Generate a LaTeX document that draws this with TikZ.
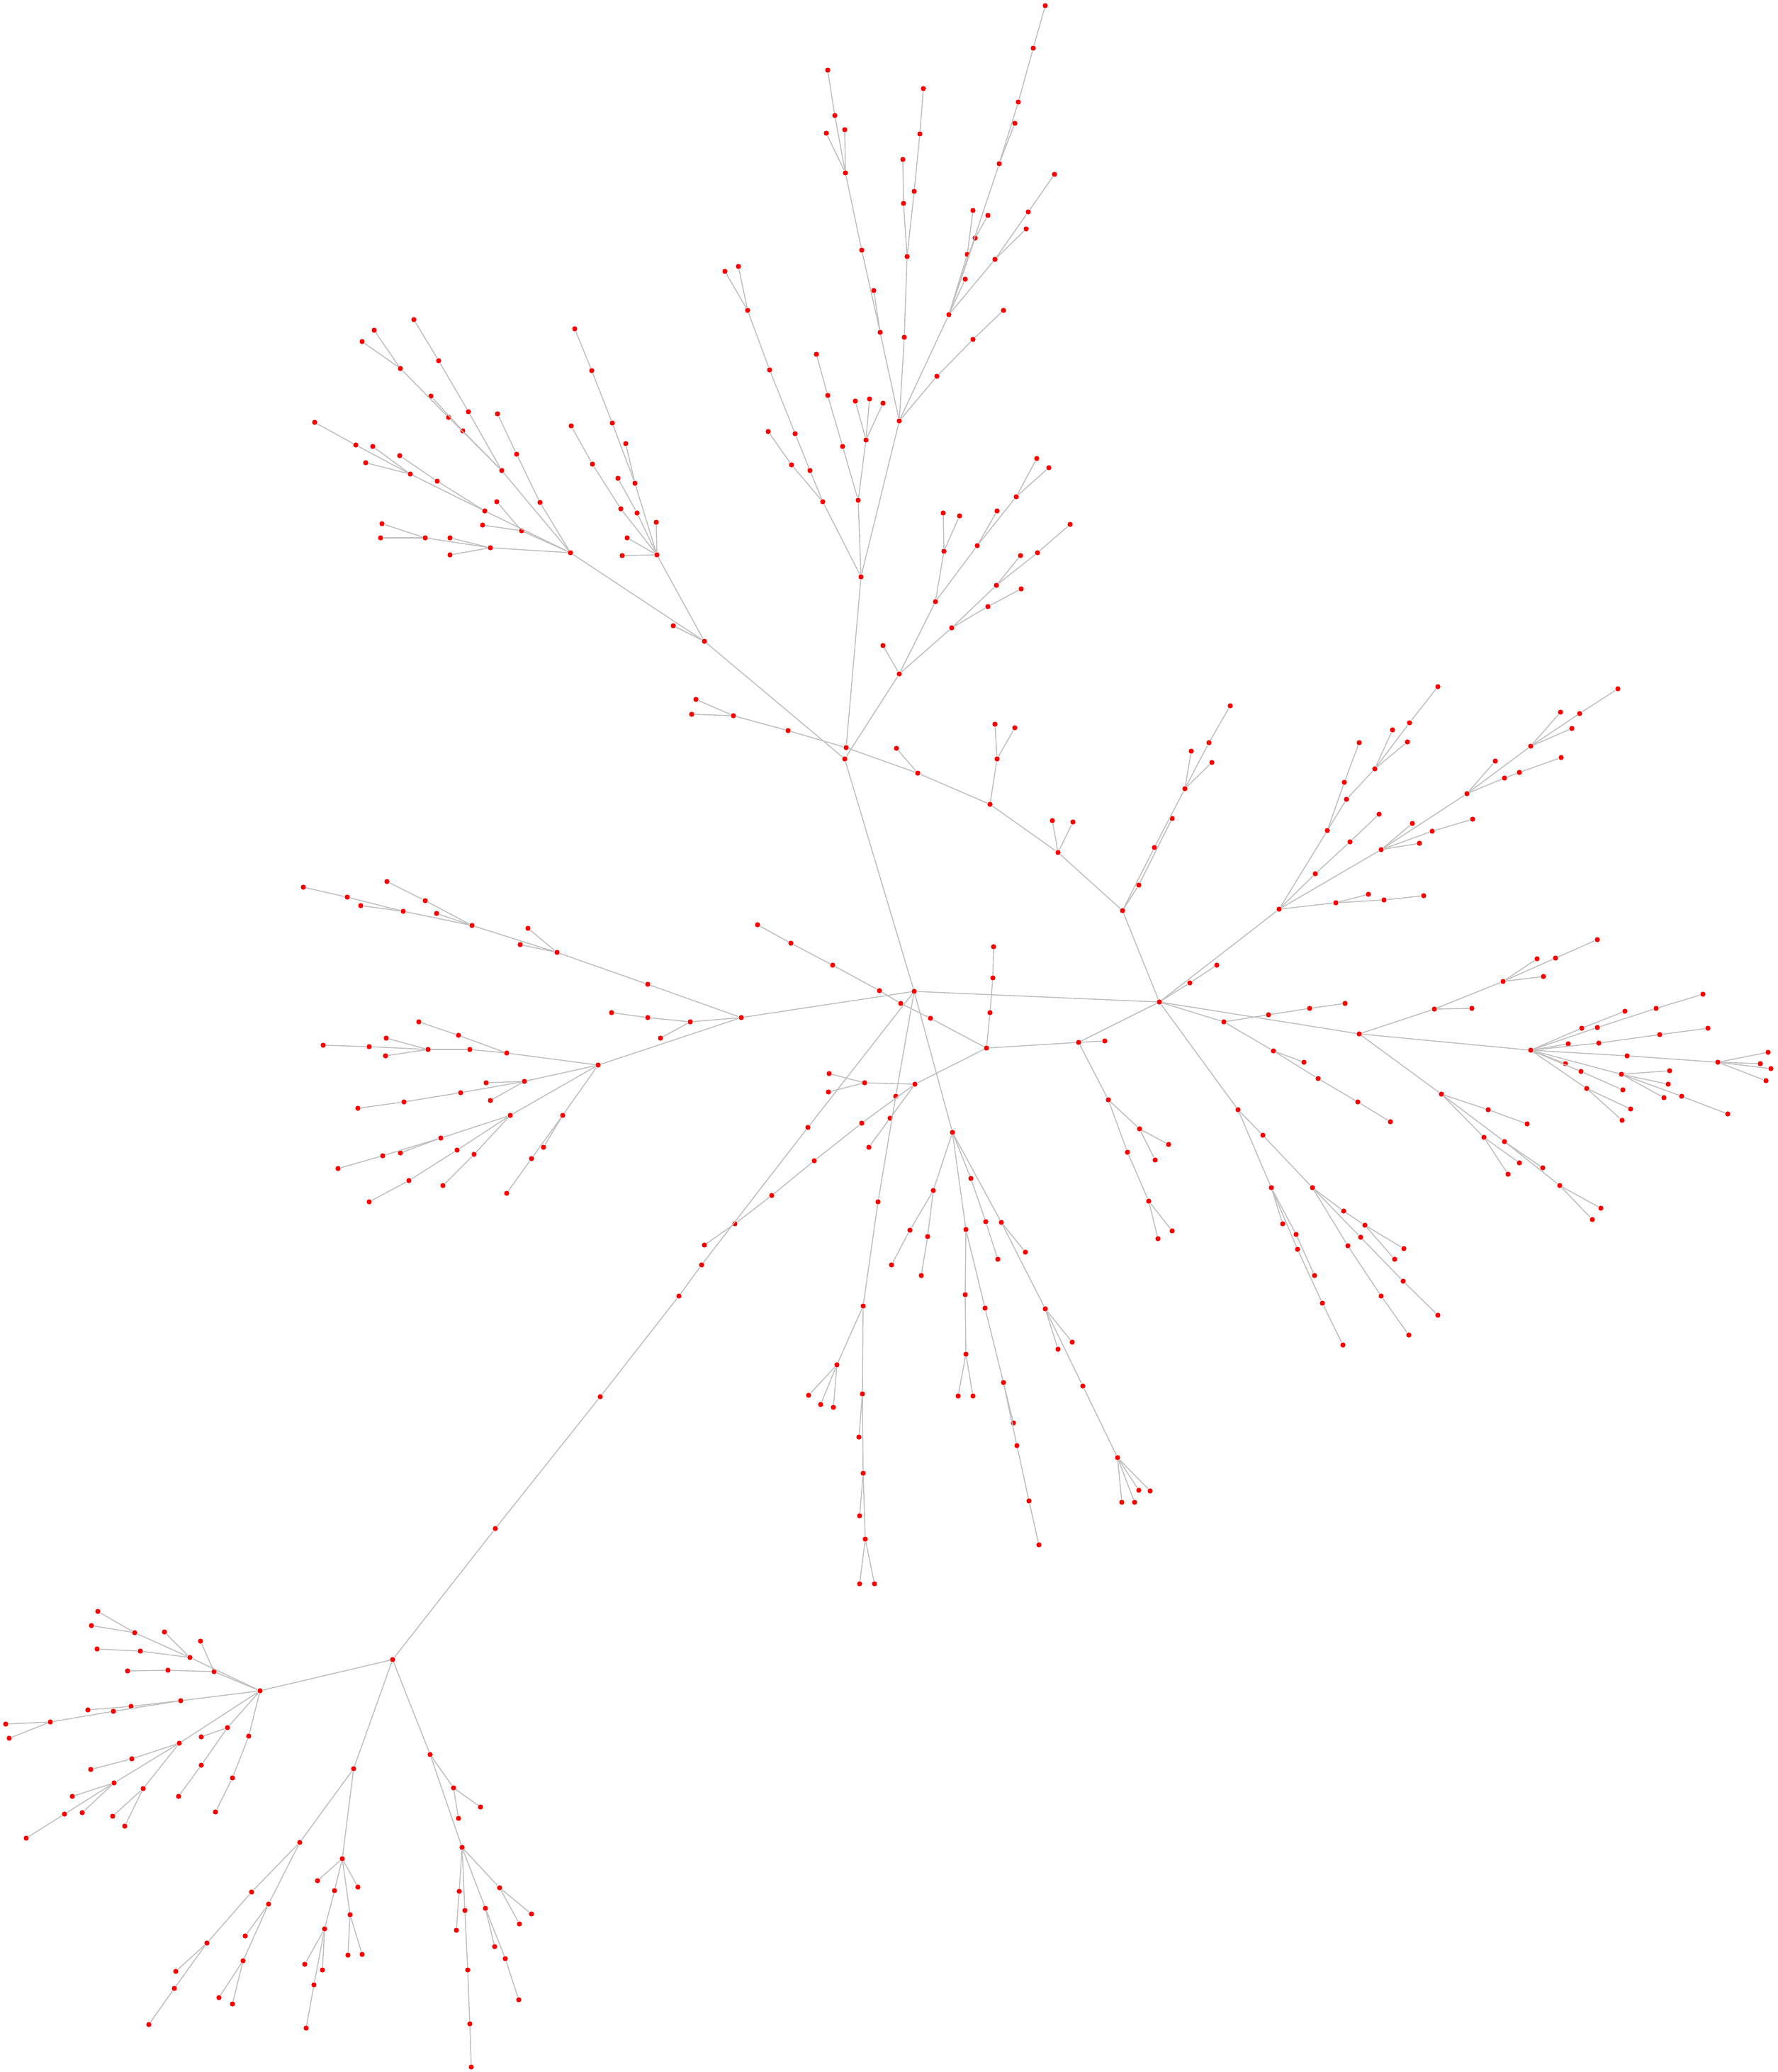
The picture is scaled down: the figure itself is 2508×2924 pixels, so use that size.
\documentclass[tikz,border=0pt]{standalone}

\begin{document}
\begin{tikzpicture}[x=0.1mm, y=-0.1mm,
    dot/.style={circle, fill=red, inner sep=0pt, minimum size=0.72mm},
    link/.style={color=black!25, line width=0.14mm}]
\useasboundingbox (0,0) rectangle (2508,2924);

\node [dot] (t1) at (1475,8) {};   \node [dot] (t2) at (1458,68) {};  \node [dot] (t3) at (1437,144) {};
\node [dot] (t4) at (1432,174) {}; \node [dot] (t5) at (1410,231) {}; \node [dot] (t6) at (1488,246) {};
\node [dot] (t7) at (1451,299) {}; \node [dot] (t8) at (1448,323) {}; \node [dot] (t9) at (1404,366) {};
\node [dot] (t10) at (1373,297) {}; \node [dot] (t11) at (1394,304) {}; \node [dot] (t12) at (1376,336) {};
\node [dot] (t13) at (1365,359) {}; \node [dot] (t14) at (1362,394) {}; \node [dot] (t15) at (1339,444) {};
\node [dot] (t16) at (1416,438) {}; \node [dot] (t17) at (1373,479) {}; \node [dot] (t18) at (1322,531) {};
\node [dot] (t19) at (1269,594) {}; \node [dot] (t20) at (1276,476) {}; \node [dot] (t21) at (1280,362) {};
\node [dot] (t22) at (1275,287) {}; \node [dot] (t23) at (1274,225) {}; \node [dot] (t24) at (1290,270) {};
\node [dot] (t25) at (1298,189) {}; \node [dot] (t26) at (1303,125) {}; \node [dot] (t27) at (1242,469) {};
\node [dot] (t28) at (1233,410) {}; \node [dot] (t29) at (1216,353) {}; \node [dot] (t30) at (1193,244) {};
\node [dot] (t31) at (1166,188) {}; \node [dot] (t32) at (1192,183) {}; \node [dot] (t33) at (1178,163) {};
\node [dot] (t34) at (1168,99) {};  \node [dot] (t35) at (1055,438) {}; \node [dot] (t36) at (1023,383) {};
\node [dot] (t37) at (1042,376) {}; \node [dot] (t38) at (1086,522) {}; \node [dot] (t39) at (1122,612) {};
\node [dot] (t40) at (1084,609) {}; \node [dot] (t41) at (1152,500) {}; \node [dot] (t42) at (1168,558) {};
\node [dot] (t43) at (1189,630) {}; \node [dot] (t44) at (1207,566) {}; \node [dot] (t45) at (1227,563) {};
\node [dot] (t46) at (1246,569) {}; \node [dot] (t47) at (1222,621) {};

\node [dot] (u1) at (584,451) {};  \node [dot] (u2) at (528,466) {};  \node [dot] (u3) at (511,482) {};
\node [dot] (u4) at (565,520) {};  \node [dot] (u5) at (619,509) {};  \node [dot] (u6) at (608,559) {};
\node [dot] (u7) at (633,589) {};  \node [dot] (u8) at (661,581) {};  \node [dot] (u9) at (653,608) {};
\node [dot] (u10) at (702,584) {}; \node [dot] (u11) at (708,664) {}; \node [dot] (u12) at (729,641) {};
\node [dot] (u13) at (762,709) {}; \node [dot] (u14) at (444,596) {}; \node [dot] (u15) at (502,628) {};
\node [dot] (u16) at (526,630) {}; \node [dot] (u17) at (564,643) {}; \node [dot] (u18) at (516,653) {};
\node [dot] (u19) at (579,669) {}; \node [dot] (u20) at (617,679) {}; \node [dot] (u21) at (684,721) {};
\node [dot] (u22) at (701,708) {}; \node [dot] (u23) at (681,741) {}; \node [dot] (u24) at (736,749) {};
\node [dot] (u25) at (805,780) {}; \node [dot] (u26) at (539,739) {}; \node [dot] (u27) at (537,759) {};
\node [dot] (u28) at (600,759) {}; \node [dot] (u29) at (635,759) {}; \node [dot] (u30) at (692,773) {};
\node [dot] (u31) at (635,783) {}; \node [dot] (u32) at (811,464) {}; \node [dot] (u33) at (835,523) {};
\node [dot] (u34) at (864,597) {}; \node [dot] (u35) at (883,626) {}; \node [dot] (u36) at (896,682) {};
\node [dot] (u37) at (806,601) {}; \node [dot] (u38) at (836,655) {}; \node [dot] (u39) at (872,675) {};
\node [dot] (u40) at (899,724) {}; \node [dot] (u41) at (876,718) {}; \node [dot] (u42) at (926,737) {};
\node [dot] (u43) at (885,759) {}; \node [dot] (u44) at (878,784) {}; \node [dot] (u45) at (927,783) {};
\node [dot] (u46) at (950,883) {}; \node [dot] (u47) at (994,905) {};

\node [dot] (v3) at (1117,656) {};  \node [dot] (v4) at (1143,664) {};  \node [dot] (v5) at (1161,708) {};
\node [dot] (v6) at (1211,706) {};  \node [dot] (v7) at (1215,814) {};  \node [dot] (v8) at (1463,647) {};
\node [dot] (v9) at (1480,660) {};  \node [dot] (v10) at (1434,701) {}; \node [dot] (v11) at (1331,724) {};
\node [dot] (v12) at (1354,728) {}; \node [dot] (v13) at (1407,721) {}; \node [dot] (v14) at (1332,778) {};
\node [dot] (v15) at (1379,770) {}; \node [dot] (v16) at (1510,740) {}; \node [dot] (v17) at (1440,784) {};
\node [dot] (v18) at (1464,780) {}; \node [dot] (v19) at (1406,826) {}; \node [dot] (v20) at (1441,831) {};
\node [dot] (v21) at (1394,856) {}; \node [dot] (v22) at (1320,849) {}; \node [dot] (v23) at (1343,886) {};
\node [dot] (v24) at (1246,911) {}; \node [dot] (v25) at (1269,951) {}; \node [dot] (v28) at (982,987) {};
\node [dot] (v29) at (976,1008) {}; \node [dot] (v30) at (1035,1010) {}; \node [dot] (v31) at (1112,1031) {};
\node [dot] (v32) at (1194,1055) {}; \node [dot] (v33) at (1192,1071) {}; \node [dot] (v34) at (1265,1056) {};
\node [dot] (v35) at (1295,1091) {}; \node [dot] (v36) at (1404,1022) {}; \node [dot] (v37) at (1432,1027) {};
\node [dot] (v38) at (1407,1071) {}; \node [dot] (v39) at (1397,1135) {};
\node [dot] (y1) at (1493,1203) {}; \node [dot] (y2) at (1485,1158) {}; \node [dot] (y3) at (1514,1160) {};

\node [dot] (x1) at (1736,996) {};   \node [dot] (x2) at (1706,1048) {};  \node [dot] (x3) at (1681,1060) {};
\node [dot] (x4) at (1710,1076) {};  \node [dot] (x5) at (1672,1113) {};  \node [dot] (x6) at (1654,1155) {};
\node [dot] (x7) at (1629,1196) {};  \node [dot] (x8) at (1607,1249) {};  \node [dot] (x9) at (1584,1285) {};
\node [dot] (x10) at (2029,969) {};  \node [dot] (x11) at (1989,1020) {}; \node [dot] (x12) at (1965,1030) {};
\node [dot] (x13) at (1986,1047) {}; \node [dot] (x14) at (1918,1048) {}; \node [dot] (x15) at (1940,1085) {};
\node [dot] (x16) at (1897,1104) {}; \node [dot] (x17) at (1900,1128) {}; \node [dot] (x18) at (1873,1172) {};
\node [dot] (x19) at (1946,1149) {}; \node [dot] (x20) at (1905,1188) {}; \node [dot] (x21) at (1856,1233) {};
\node [dot] (x22) at (1805,1283) {}; \node [dot] (x23) at (2283,972) {};  \node [dot] (x24) at (2202,1005) {};
\node [dot] (x25) at (2229,1007) {}; \node [dot] (x26) at (2218,1028) {}; \node [dot] (x27) at (2160,1053) {};
\node [dot] (x28) at (2110,1074) {}; \node [dot] (x29) at (2203,1069) {}; \node [dot] (x30) at (2144,1090) {};
\node [dot] (x31) at (2123,1098) {}; \node [dot] (x32) at (2070,1120) {}; \node [dot] (x33) at (1993,1162) {};
\node [dot] (x34) at (2078,1156) {}; \node [dot] (x35) at (2021,1173) {}; \node [dot] (x36) at (2003,1190) {};
\node [dot] (x37) at (1949,1199) {}; \node [dot] (x38) at (1931,1262) {}; \node [dot] (x39) at (1953,1270) {};
\node [dot] (x40) at (2009,1264) {}; \node [dot] (x41) at (1885,1274) {};

\node [dot] (s9) at (1679,1387) {};  \node [dot] (s10) at (1717,1362) {}; \node [dot] (s15) at (1727,1442) {};
\node [dot] (s16) at (1790,1432) {}; \node [dot] (s17) at (1848,1423) {}; \node [dot] (s20) at (1797,1483) {};
\node [dot] (s21) at (1840,1499) {}; \node [dot] (s22) at (1860,1522) {};

\node [dot] (r1) at (2254,1326) {};  \node [dot] (r2) at (2169,1353) {};  \node [dot] (r3) at (2195,1352) {};
\node [dot] (r4) at (2178,1378) {};  \node [dot] (r5) at (2121,1385) {};  \node [dot] (r6) at (1898,1416) {};
\node [dot] (r7) at (2024,1424) {};  \node [dot] (r8) at (2077,1423) {};  \node [dot] (r9) at (1918,1459) {};
\node [dot] (r10) at (2160,1482) {}; \node [dot] (r11) at (2232,1451) {}; \node [dot] (r12) at (2293,1427) {};
\node [dot] (r13) at (2254,1450) {}; \node [dot] (r14) at (2337,1423) {}; \node [dot] (r15) at (2403,1403) {};
\node [dot] (r16) at (2213,1473) {}; \node [dot] (r17) at (2256,1472) {}; \node [dot] (r18) at (2342,1460) {};
\node [dot] (r19) at (2410,1451) {}; \node [dot] (r20) at (2296,1490) {}; \node [dot] (r21) at (2424,1499) {};
\node [dot] (r22) at (2495,1485) {}; \node [dot] (r23) at (2484,1501) {}; \node [dot] (r24) at (2499,1508) {};
\node [dot] (r25) at (2492,1525) {}; \node [dot] (r26) at (2209,1501) {}; \node [dot] (r27) at (2231,1512) {};
\node [dot] (r28) at (2288,1516) {}; \node [dot] (r29) at (2356,1511) {}; \node [dot] (r30) at (2354,1530) {};
\node [dot] (r31) at (2348,1549) {}; \node [dot] (r32) at (2373,1547) {}; \node [dot] (r33) at (2438,1572) {};
\node [dot] (r34) at (2290,1538) {}; \node [dot] (r35) at (2239,1536) {}; \node [dot] (r36) at (2301,1565) {};
\node [dot] (r37) at (2289,1581) {}; \node [dot] (r38) at (2034,1544) {}; \node [dot] (r39) at (2100,1566) {};
\node [dot] (r40) at (2155,1586) {}; \node [dot] (r41) at (2094,1605) {}; \node [dot] (r42) at (2123,1611) {};
\node [dot] (r43) at (2144,1641) {}; \node [dot] (r44) at (2128,1657) {}; \node [dot] (r45) at (2177,1648) {};
\node [dot] (r46) at (2201,1673) {}; \node [dot] (r47) at (2259,1705) {}; \node [dot] (r48) at (2247,1721) {};
\node [dot] (r49) at (1916,1555) {}; \node [dot] (r50) at (1962,1583) {}; \node [dot] (r51) at (1896,1709) {};
\node [dot] (r52) at (1926,1729) {}; \node [dot] (r53) at (1920,1746) {};

\node [dot] (q1) at (1747,1566) {};  \node [dot] (q2) at (1782,1602) {};  \node [dot] (q3) at (1794,1676) {};
\node [dot] (q4) at (1852,1676) {};  \node [dot] (q5) at (1810,1727) {};  \node [dot] (q6) at (1829,1742) {};
\node [dot] (q7) at (1831,1763) {};  \node [dot] (q8) at (1855,1800) {};  \node [dot] (q9) at (1866,1839) {};
\node [dot] (q10) at (1895,1898) {}; \node [dot] (q14) at (1902,1758) {}; \node [dot] (q15) at (1981,1762) {};
\node [dot] (q16) at (1968,1777) {}; \node [dot] (q17) at (1980,1808) {}; \node [dot] (q18) at (1949,1829) {};
\node [dot] (q19) at (2029,1856) {}; \node [dot] (q20) at (1988,1884) {};

\node [dot] (w1) at (1069,1305) {};  \node [dot] (w2) at (1116,1331) {};  \node [dot] (w3) at (1175,1362) {};
\node [dot] (w4) at (1241,1398) {};  \node [dot] (w5) at (1290,1399) {};  \node [dot] (w6) at (1271,1416) {};
\node [dot] (w7) at (1313,1437) {};  \node [dot] (w8) at (1046,1436) {};  \node [dot] (w9) at (1402,1336) {};
\node [dot] (w10) at (1401,1380) {}; \node [dot] (w11) at (1397,1429) {}; \node [dot] (w12) at (1392,1479) {};
\node [dot] (w13) at (1522,1471) {}; \node [dot] (w14) at (1559,1469) {}; \node [dot] (w15) at (1636,1414) {};
\node [dot] (w16) at (1170,1515) {}; \node [dot] (w17) at (1220,1528) {}; \node [dot] (w18) at (1169,1541) {};
\node [dot] (w19) at (1291,1530) {}; \node [dot] (w20) at (1264,1547) {}; \node [dot] (w21) at (1256,1578) {};
\node [dot] (w22) at (1216,1585) {}; \node [dot] (w23) at (1226,1619) {}; \node [dot] (w24) at (1140,1591) {};
\node [dot] (w25) at (1149,1638) {}; \node [dot] (w26) at (1089,1687) {}; \node [dot] (w27) at (1344,1598) {};
\node [dot] (w28) at (1239,1696) {}; \node [dot] (w29) at (1317,1680) {}; \node [dot] (w30) at (1284,1736) {};
\node [dot] (w31) at (1309,1745) {}; \node [dot] (w32) at (1258,1785) {}; \node [dot] (w33) at (1370,1663) {};
\node [dot] (w34) at (1391,1724) {}; \node [dot] (w35) at (1413,1725) {}; \node [dot] (w36) at (1363,1735) {};
\node [dot] (w37) at (1408,1777) {}; \node [dot] (w38) at (1447,1767) {}; \node [dot] (w39) at (1564,1552) {};
\node [dot] (w40) at (1608,1593) {}; \node [dot] (w41) at (1649,1615) {}; \node [dot] (w42) at (1630,1637) {};
\node [dot] (w43) at (1591,1626) {}; \node [dot] (w44) at (1621,1695) {}; \node [dot] (w45) at (1654,1737) {};
\node [dot] (w46) at (1634,1748) {};

\node [dot] (p2) at (1300,1800) {};  \node [dot] (p4) at (1218,1843) {};  \node [dot] (p5) at (1181,1926) {};
\node [dot] (p6) at (1141,1969) {};  \node [dot] (p7) at (1158,1982) {};  \node [dot] (p8) at (1176,1986) {};
\node [dot] (p9) at (1217,1967) {};  \node [dot] (p10) at (1212,2028) {}; \node [dot] (p11) at (1218,2079) {};
\node [dot] (p12) at (1213,2139) {}; \node [dot] (p13) at (1221,2172) {}; \node [dot] (p14) at (1213,2235) {};
\node [dot] (p15) at (1234,2235) {}; \node [dot] (p16) at (1362,1827) {}; \node [dot] (p17) at (1363,1911) {};
\node [dot] (p18) at (1352,1970) {}; \node [dot] (p19) at (1373,1970) {}; \node [dot] (p20) at (1390,1846) {};
\node [dot] (p21) at (1416,1951) {}; \node [dot] (p22) at (1430,2008) {}; \node [dot] (p23) at (1435,2040) {};
\node [dot] (p24) at (1452,2118) {}; \node [dot] (p25) at (1466,2180) {}; \node [dot] (p26) at (1475,1847) {};
\node [dot] (p27) at (1493,1904) {}; \node [dot] (p28) at (1513,1894) {}; \node [dot] (p29) at (1528,1956) {};
\node [dot] (p30) at (1577,2057) {}; \node [dot] (p31) at (1583,2120) {}; \node [dot] (p32) at (1601,2120) {};
\node [dot] (p33) at (1607,2103) {}; \node [dot] (p34) at (1623,2104) {};

\node [dot] (l1) at (428,1252) {};  \node [dot] (l2) at (490,1266) {};  \node [dot] (l3) at (509,1278) {};
\node [dot] (l4) at (569,1286) {};  \node [dot] (l5) at (546,1244) {};  \node [dot] (l6) at (600,1271) {};
\node [dot] (l7) at (616,1289) {};  \node [dot] (l8) at (666,1306) {};  \node [dot] (l9) at (745,1310) {};
\node [dot] (l10) at (734,1333) {}; \node [dot] (l11) at (786,1344) {}; \node [dot] (l12) at (914,1389) {};
\node [dot] (l14) at (863,1429) {}; \node [dot] (l15) at (914,1436) {}; \node [dot] (l16) at (974,1442) {};
\node [dot] (l17) at (932,1465) {}; \node [dot] (l18) at (844,1503) {}; \node [dot] (l19) at (715,1486) {};
\node [dot] (l20) at (647,1461) {}; \node [dot] (l21) at (591,1442) {}; \node [dot] (l22) at (663,1481) {};
\node [dot] (l23) at (604,1481) {}; \node [dot] (l24) at (545,1465) {}; \node [dot] (l25) at (521,1477) {};
\node [dot] (l26) at (456,1475) {}; \node [dot] (l27) at (544,1490) {}; \node [dot] (l28) at (740,1526) {};
\node [dot] (l29) at (686,1528) {}; \node [dot] (l30) at (692,1553) {}; \node [dot] (l31) at (650,1542) {};
\node [dot] (l32) at (570,1555) {}; \node [dot] (l33) at (505,1564) {}; \node [dot] (l34) at (720,1574) {};
\node [dot] (l35) at (622,1606) {}; \node [dot] (l36) at (565,1627) {}; \node [dot] (l37) at (540,1631) {};
\node [dot] (l38) at (477,1649) {}; \node [dot] (l39) at (645,1623) {}; \node [dot] (l40) at (577,1666) {};
\node [dot] (l41) at (521,1696) {}; \node [dot] (l42) at (669,1629) {}; \node [dot] (l43) at (625,1673) {};
\node [dot] (l44) at (794,1574) {}; \node [dot] (l45) at (767,1619) {}; \node [dot] (l46) at (750,1635) {};
\node [dot] (l47) at (715,1684) {};

\node [dot] (k1) at (1037,1727) {}; \node [dot] (k2) at (994,1757) {}; \node [dot] (k3) at (990,1785) {};
\node [dot] (k4) at (958,1829) {};  \node [dot] (k5) at (847,1971) {}; \node [dot] (k6) at (699,2157) {};
\node [dot] (h) at (554,2342) {};

\node [dot] (b1) at (138,2274) {};  \node [dot] (b2) at (129,2294) {};  \node [dot] (b3) at (190,2304) {};
\node [dot] (b4) at (232,2303) {};  \node [dot] (b5) at (283,2316) {};  \node [dot] (b6) at (137,2327) {};
\node [dot] (b7) at (198,2330) {};  \node [dot] (b8) at (268,2339) {};  \node [dot] (b9) at (180,2358) {};
\node [dot] (b10) at (237,2357) {}; \node [dot] (b11) at (302,2359) {}; \node [dot] (b12) at (367,2386) {};
\node [dot] (b13) at (255,2400) {}; \node [dot] (b14) at (124,2413) {}; \node [dot] (b15) at (185,2408) {};
\node [dot] (b16) at (160,2415) {}; \node [dot] (b17) at (71,2430) {};  \node [dot] (b18) at (8,2433) {};
\node [dot] (b19) at (13,2453) {};  \node [dot] (b20) at (321,2438) {}; \node [dot] (b21) at (284,2451) {};
\node [dot] (b22) at (351,2450) {}; \node [dot] (b23) at (253,2460) {}; \node [dot] (b24) at (186,2482) {};
\node [dot] (b25) at (128,2497) {}; \node [dot] (b26) at (284,2491) {}; \node [dot] (b27) at (328,2509) {};
\node [dot] (b28) at (161,2516) {}; \node [dot] (b29) at (102,2535) {}; \node [dot] (b30) at (202,2524) {};
\node [dot] (b31) at (252,2535) {}; \node [dot] (b32) at (116,2558) {}; \node [dot] (b33) at (91,2560) {};
\node [dot] (b34) at (159,2563) {}; \node [dot] (b35) at (176,2577) {}; \node [dot] (b36) at (304,2557) {};
\node [dot] (b37) at (37,2594) {};

\node [dot] (c8) at (499,2496) {};  \node [dot] (c9) at (607,2476) {};  \node [dot] (c10) at (640,2523) {};
\node [dot] (c11) at (678,2550) {}; \node [dot] (c12) at (647,2566) {}; \node [dot] (c13) at (423,2600) {};
\node [dot] (c14) at (355,2670) {}; \node [dot] (c15) at (379,2687) {}; \node [dot] (c16) at (292,2742) {};
\node [dot] (c17) at (248,2782) {}; \node [dot] (c18) at (246,2806) {}; \node [dot] (c19) at (210,2857) {};
\node [dot] (c20) at (346,2732) {}; \node [dot] (c21) at (343,2767) {}; \node [dot] (c22) at (309,2819) {};
\node [dot] (c23) at (328,2828) {}; \node [dot] (c24) at (483,2623) {}; \node [dot] (c25) at (448,2654) {};
\node [dot] (c26) at (505,2663) {}; \node [dot] (c27) at (472,2668) {}; \node [dot] (c28) at (494,2702) {};
\node [dot] (c29) at (458,2722) {}; \node [dot] (c30) at (430,2772) {}; \node [dot] (c31) at (455,2780) {};
\node [dot] (c32) at (443,2801) {}; \node [dot] (c33) at (432,2862) {}; \node [dot] (c34) at (491,2759) {};
\node [dot] (c35) at (511,2758) {}; \node [dot] (c36) at (652,2607) {}; \node [dot] (c37) at (648,2669) {};
\node [dot] (c38) at (656,2696) {}; \node [dot] (c39) at (644,2724) {}; \node [dot] (c40) at (685,2693) {};
\node [dot] (c41) at (705,2664) {}; \node [dot] (c42) at (750,2701) {}; \node [dot] (c43) at (733,2715) {};
\node [dot] (c44) at (698,2747) {}; \node [dot] (c45) at (713,2764) {}; \node [dot] (c46) at (732,2822) {};
\node [dot] (c47) at (660,2780) {}; \node [dot] (c48) at (663,2856) {}; \node [dot] (c49) at (665,2917) {};

\path [link]
(t1) edge (t2) (t2) edge (t3) (t3) edge (t5) (t4) edge (t5) (t5) edge (t15)
(t11) edge (t12) (t12) edge (t15) (t10) edge (t13) (t13) edge (t15) (t14) edge (t15)
(t6) edge (t7) (t7) edge (t9) (t8) edge (t9) (t9) edge (t15) (t15) edge (t19)
(t16) edge (t17) (t17) edge (t18) (t18) edge (t19) (t20) edge (t19) (t21) edge (t20)
(t22) edge (t21) (t23) edge (t22) (t24) edge (t21) (t25) edge (t24) (t26) edge (t25)
(t27) edge (t19) (t28) edge (t27) (t29) edge (t27) (t30) edge (t29) (t31) edge (t30)
(t32) edge (t30) (t33) edge (t30) (t34) edge (t33) (t36) edge (t35) (t37) edge (t35)
(t35) edge (t38) (t38) edge (t39) (t41) edge (t42) (t42) edge (t43)
(t44) edge (t47) (t45) edge (t47) (t46) edge (t47);

\path [link]
(u2) edge (u4) (u3) edge (u4) (u4) edge (u7) (u7) edge (u11) (u6) edge (u9) (u9) edge (u11)
(u1) edge (u5) (u5) edge (u8) (u8) edge (u11) (u11) edge (u25)
(u10) edge (u12) (u12) edge (u13) (u13) edge (u25)
(u14) edge (u15) (u15) edge (u19) (u16) edge (u19) (u18) edge (u19) (u19) edge (u21)
(u17) edge (u20) (u20) edge (u21) (u21) edge (u25)
(u22) edge (u24) (u23) edge (u24) (u24) edge (u25)
(u26) edge (u28) (u27) edge (u28) (u28) edge (u30) (u29) edge (u30) (u31) edge (u30) (u30) edge (u25)
(u25) edge (u47) (u32) edge (u33) (u33) edge (u34) (u34) edge (u36) (u35) edge (u36) (u36) edge (u45)
(u37) edge (u38) (u38) edge (u41) (u41) edge (u45) (u39) edge (u40) (u40) edge (u45)
(u42) edge (u45) (u43) edge (u45) (u44) edge (u45) (u45) edge (u47) (u46) edge (u47);

\path [link]
(t40) edge (v3) (v3) edge (v5) (t39) edge (v4) (v4) edge (v5) (v5) edge (v7)
(t43) edge (v6) (t47) edge (v6) (v6) edge (v7) (t19) edge (v7) (v7) edge (v32)
(v28) edge (v30) (v29) edge (v30) (v30) edge (v31) (v31) edge (v32) (v32) edge (v35)
(v34) edge (v35) (v35) edge (v39) (v36) edge (v38) (v37) edge (v38) (v38) edge (v39)
(u47) edge (v33) (v25) edge (v33) (v24) edge (v25) (v25) edge (v22)
(v22) edge (v14) (v14) edge (v11) (v14) edge (v12) (v22) edge (v15) (v15) edge (v10)
(v10) edge (v8) (v10) edge (v9) (v15) edge (v13) (v25) edge (v23) (v23) edge (v19)
(v19) edge (v17) (v19) edge (v18) (v18) edge (v16) (v23) edge (v21) (v21) edge (v20)
(v33) edge (w5) (v39) edge (y1) (y1) edge (y2) (y1) edge (y3) (y1) edge (x9);

\path [link]
(x9) edge (x7) (x7) edge (x5) (x9) edge (x8) (x8) edge (x6) (x5) edge (x3) (x5) edge (x2)
(x2) edge (x1) (x5) edge (x4) (x22) edge (x18) (x18) edge (x16) (x16) edge (x14)
(x18) edge (x17) (x17) edge (x15) (x15) edge (x12) (x15) edge (x11) (x11) edge (x10)
(x15) edge (x13) (x22) edge (x21) (x21) edge (x20) (x20) edge (x19)
(x22) edge (x37) (x37) edge (x33) (x37) edge (x35) (x35) edge (x34) (x37) edge (x36)
(x37) edge (x32) (x32) edge (x27) (x27) edge (x24) (x27) edge (x25) (x25) edge (x23)
(x27) edge (x26) (x32) edge (x28) (x32) edge (x31) (x31) edge (x30) (x30) edge (x29)
(x22) edge (x41) (x41) edge (x38) (x41) edge (x39) (x39) edge (x40);

\path [link]
(x9) edge (w15) (x22) edge (w15) (w15) edge (s9) (s9) edge (s10) (w15) edge (s15)
(s15) edge (s16) (s16) edge (s17) (s17) edge (r6) (s15) edge (s20) (s20) edge (s21)
(s20) edge (s22) (s22) edge (r49) (r49) edge (r50) (w15) edge (r9) (w15) edge (q1)
(w13) edge (w15) (w5) edge (w15);

\path [link]
(r9) edge (r7) (r7) edge (r5) (r5) edge (r2) (r5) edge (r3) (r3) edge (r1) (r5) edge (r4)
(r7) edge (r8) (r9) edge (r10) (r10) edge (r11) (r11) edge (r12) (r10) edge (r13)
(r13) edge (r14) (r14) edge (r15) (r10) edge (r16) (r10) edge (r17) (r17) edge (r18)
(r18) edge (r19) (r10) edge (r20) (r20) edge (r21) (r21) edge (r22) (r21) edge (r23)
(r21) edge (r24) (r21) edge (r25) (r10) edge (r26) (r10) edge (r27) (r27) edge (r34)
(r10) edge (r28) (r28) edge (r29) (r28) edge (r30) (r28) edge (r31) (r28) edge (r32)
(r32) edge (r33) (r10) edge (r35) (r35) edge (r36) (r35) edge (r37)
(r9) edge (r38) (r38) edge (r39) (r39) edge (r40) (r38) edge (r41) (r41) edge (r43)
(r41) edge (r44) (r38) edge (r42) (r42) edge (r45) (r42) edge (r46) (r46) edge (r47)
(r46) edge (r48);

\path [link]
(q1) edge (q2) (q2) edge (q4) (q1) edge (q3) (q3) edge (q5) (q3) edge (q6) (q6) edge (q8)
(q3) edge (q7) (q7) edge (q9) (q9) edge (q10) (q4) edge (r51) (r51) edge (r52)
(r52) edge (q15) (r52) edge (q16) (q4) edge (r53) (r53) edge (q17) (q17) edge (q19)
(q4) edge (q14) (q14) edge (q18) (q18) edge (q20);

\path [link]
(w1) edge (w2) (w2) edge (w3) (w3) edge (w4) (w4) edge (w6) (w6) edge (w7) (w7) edge (w12)
(w9) edge (w10) (w10) edge (w11) (w11) edge (w12) (w12) edge (w13) (w13) edge (w14)
(w13) edge (w39) (w39) edge (w40) (w40) edge (w41) (w40) edge (w42) (w39) edge (w43)
(w43) edge (w44) (w44) edge (w45) (w44) edge (w46) (w5) edge (w8) (w5) edge (w20)
(w20) edge (w28) (w28) edge (p4) (w5) edge (w24) (w24) edge (k3) (w12) edge (w19)
(w19) edge (w17) (w17) edge (w16) (w17) edge (w18) (w19) edge (w22) (w22) edge (w25)
(w25) edge (w26) (w26) edge (k1) (k1) edge (k2) (w19) edge (w21) (w21) edge (w23)
(w5) edge (w27) (w27) edge (w29) (w29) edge (w30) (w30) edge (w32) (w29) edge (w31)
(w31) edge (p2) (w27) edge (w33) (w33) edge (w34) (w34) edge (w37) (w27) edge (w35)
(w35) edge (w38) (w35) edge (p26) (w27) edge (w36) (w36) edge (p16) (w36) edge (p20);

\path [link]
(p4) edge (p5) (p5) edge (p6) (p5) edge (p7) (p5) edge (p8) (p4) edge (p9) (p9) edge (p10)
(p9) edge (p11) (p11) edge (p12) (p11) edge (p13) (p13) edge (p14) (p13) edge (p15)
(p16) edge (p17) (p17) edge (p18) (p17) edge (p19) (p20) edge (p21) (p21) edge (p22)
(p21) edge (p23) (p23) edge (p24) (p24) edge (p25) (p26) edge (p27) (p26) edge (p28)
(p26) edge (p29) (p29) edge (p30) (p30) edge (p31) (p30) edge (p32) (p30) edge (p33)
(p30) edge (p34);

\path [link]
(l1) edge (l2) (l2) edge (l4) (l3) edge (l4) (l4) edge (l8) (l5) edge (l6) (l6) edge (l8)
(l7) edge (l8) (l8) edge (l11) (l9) edge (l11) (l10) edge (l11) (l11) edge (l12)
(l12) edge (w8) (l14) edge (l15) (l15) edge (l16) (l16) edge (w8) (l17) edge (l16)
(w8) edge (l18) (l18) edge (l19) (l19) edge (l20) (l20) edge (l21) (l19) edge (l22)
(l22) edge (l23) (l23) edge (l24) (l23) edge (l25) (l25) edge (l26) (l23) edge (l27)
(l18) edge (l28) (l28) edge (l29) (l28) edge (l30) (l28) edge (l31) (l31) edge (l32)
(l32) edge (l33) (l18) edge (l34) (l34) edge (l35) (l35) edge (l36) (l35) edge (l37)
(l37) edge (l38) (l34) edge (l39) (l39) edge (l40) (l40) edge (l41) (l34) edge (l42)
(l42) edge (l43) (l18) edge (l44) (l44) edge (l45) (l44) edge (l46) (l46) edge (l47);

\path [link]
(k3) edge (k4) (k4) edge (k5) (k5) edge (k6) (k6) edge (h) (h) edge (b12)
(b12) edge (b11) (b11) edge (b10) (b10) edge (b9) (b11) edge (b5) (b12) edge (b8)
(b8) edge (b7) (b7) edge (b6) (b8) edge (b4) (b8) edge (b3) (b3) edge (b1) (b3) edge (b2)
(b12) edge (b13) (b13) edge (b15) (b15) edge (b14) (b13) edge (b16) (b16) edge (b17)
(b17) edge (b18) (b17) edge (b19) (b12) edge (b23) (b23) edge (b24) (b24) edge (b25)
(b23) edge (b28) (b28) edge (b29) (b28) edge (b32) (b28) edge (b33) (b33) edge (b37)
(b23) edge (b30) (b30) edge (b34) (b30) edge (b35) (b12) edge (b20) (b20) edge (b21)
(b20) edge (b26) (b26) edge (b31) (b12) edge (b22) (b22) edge (b27) (b27) edge (b36);

\path [link]
(h) edge (c8) (c8) edge (c13) (c13) edge (c14) (c14) edge (c16) (c16) edge (c17)
(c16) edge (c18) (c18) edge (c19) (c13) edge (c15) (c15) edge (c20) (c15) edge (c21)
(c21) edge (c22) (c21) edge (c23) (c8) edge (c24) (c24) edge (c25) (c24) edge (c26)
(c24) edge (c27) (c27) edge (c29) (c29) edge (c30) (c29) edge (c31) (c29) edge (c32)
(c32) edge (c33) (c24) edge (c28) (c28) edge (c34) (c28) edge (c35)
(h) edge (c9) (c9) edge (c10) (c10) edge (c11) (c10) edge (c12) (c9) edge (c36)
(c36) edge (c37) (c37) edge (c39) (c36) edge (c38) (c38) edge (c47) (c47) edge (c48)
(c48) edge (c49) (c36) edge (c40) (c40) edge (c44) (c40) edge (c45) (c45) edge (c46)
(c36) edge (c41) (c41) edge (c42) (c41) edge (c43);

\end{tikzpicture}
\end{document}
